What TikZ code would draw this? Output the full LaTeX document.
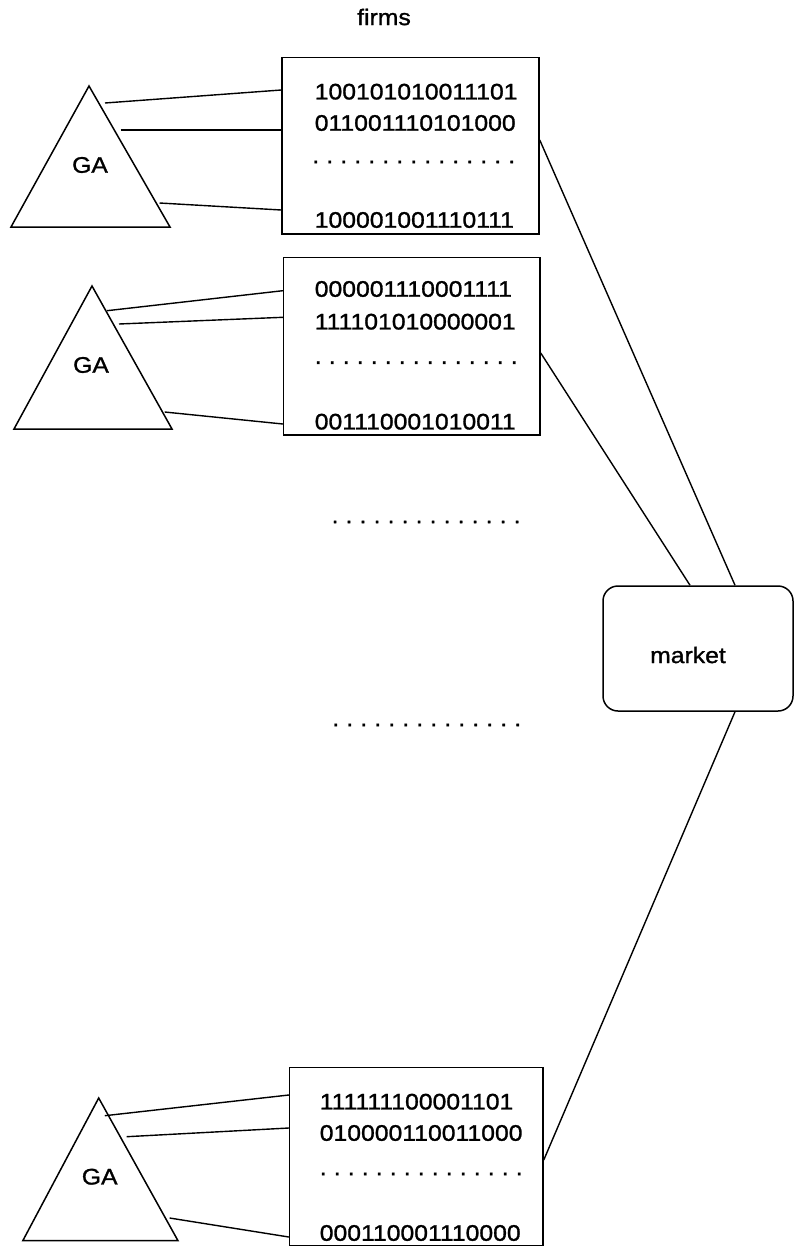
\documentclass[tikz,border=0pt]{standalone}
\usepackage{fontspec}
\setmainfont{Liberation Sans}[FakeStretch=1.1,FakeBold=1.2]
\usetikzlibrary{calc}
% a row of evenly spaced dots
\newcommand\dotline[1]{\foreach \k in {1,...,#1}{\makebox[14pt]{.}}}
\tikzset{
  every picture/.style={line width=1.5pt},
  firmbox/.style={draw, rectangle, inner sep=0pt},
  marketbox/.style={draw, rectangle, rounded corners=15pt, inner sep=0pt,
    minimum width=190pt, minimum height=125pt},
  bits/.style={anchor=west, inner sep=0pt, font=\fontsize{22.5}{27}\selectfont},
  dotrow/.style={anchor=west, inner sep=0pt, font=\fontsize{22.5}{27}\selectfont},
  lbl/.style={inner sep=0pt, font=\fontsize{22.5}{27}\selectfont},
  link/.style={line width=1.4pt},
}
\begin{document}
\begin{tikzpicture}[x=1pt, y=-1pt]
\useasboundingbox (0,0) rectangle (794,1247);

\node[lbl] (firms) at (384,17) {firms};

% ---- firm 1 ----
\node[firmbox, minimum width=257pt, minimum height=176.7pt] (f1) at (410.5,145.7) {};
\node[bits] (f1r1) at (314,91.7) {100101010011101};
\node[bits] (f1r2) at (314,123) {011001110101000};
\node[dotrow] (f1d) at (308,162) {\dotline{15}};
\node[bits] (f1r4) at (314,220) {100001001110111};
\coordinate (t1top) at (89,86);
\coordinate (t1l) at (11,227);
\coordinate (t1r) at (170,227);
\draw[line join=miter] (t1top) -- (t1l) -- (t1r) -- cycle;
\node[lbl] (ga1) at (90,165) {GA};
\coordinate (t1a) at (105,103);
\coordinate (t1b) at (120.5,130);
\coordinate (t1c) at (159.5,203);
\draw[link] (t1a) -- (f1.west |- 0,90);
\draw[link] (t1b) -- (f1.west |- 0,130);
\draw[link] (t1c) -- (f1.west |- 0,210);

% ---- firm 2 ----
\node[firmbox, minimum width=256.4pt, minimum height=177.7pt] (f2) at (411.8,346.2) {};
\node[bits] (f2r1) at (314,289) {000001110001111};
\node[bits] (f2r2) at (314,321.7) {111101010000001};
\node[dotrow] (f2d) at (310.5,362.7) {\dotline{15}};
\node[bits] (f2r4) at (314,421.7) {001110001010011};
\coordinate (t2top) at (92,286);
\coordinate (t2l) at (14,429);
\coordinate (t2r) at (172,429);
\draw[line join=miter] (t2top) -- (t2l) -- (t2r) -- cycle;
\node[lbl] (ga2) at (91,365) {GA};
\coordinate (t2a) at (107,310.7);
\coordinate (t2b) at (119,324);
\coordinate (t2c) at (164.6,412);
\draw[link] (t2a) -- (f2.west |- 0,290.7);
\draw[link] (t2b) -- (f2.west |- 0,317.3);
\draw[link] (t2c) -- (f2.west |- 0,424);

% ---- omitted firms ----
\node[dotrow] (gap1) at (327.3,522) {\dotline{14}};
\node[dotrow] (gap2) at (328,725) {\dotline{14}};

% ---- last firm ----
\node[firmbox, minimum width=253.4pt, minimum height=177.8pt] (f3) at (416.3,1156.6) {};
\node[bits] (f3r1) at (319,1101.7) {111111100001101};
\node[bits] (f3r2) at (319,1133) {010000110011000};
\node[dotrow] (f3d) at (315.5,1174) {\dotline{15}};
\node[bits] (f3r4) at (319,1233) {000110001110000};
\coordinate (t3top) at (98.7,1098);
\coordinate (t3l) at (22.8,1240.7);
\coordinate (t3r) at (178,1240.7);
\draw[line join=miter] (t3top) -- (t3l) -- (t3r) -- cycle;
\node[lbl] (ga3) at (99.7,1176.7) {GA};
\coordinate (t3a) at (104.8,1115.7);
\coordinate (t3b) at (126.6,1136.7);
\coordinate (t3c) at (169.6,1218);
\draw[link] (t3a) -- (f3.west |- 0,1095);
\draw[link] (t3b) -- (f3.west |- 0,1128);
\draw[link] (t3c) -- (f3.west |- 0,1237);

% ---- market ----
\node[marketbox] (mk) at (698,648.5) {};
\node[lbl] (mklbl) at (688,655) {market};
\draw[link] (f1.east |- 0,140) -- (735,0 |- mk.north);
\draw[link] (f2.east |- 0,353) -- (690,0 |- mk.north);
\draw[link] (f3.east |- 0,1160) -- (735,0 |- mk.south);
\end{tikzpicture}
\end{document}
